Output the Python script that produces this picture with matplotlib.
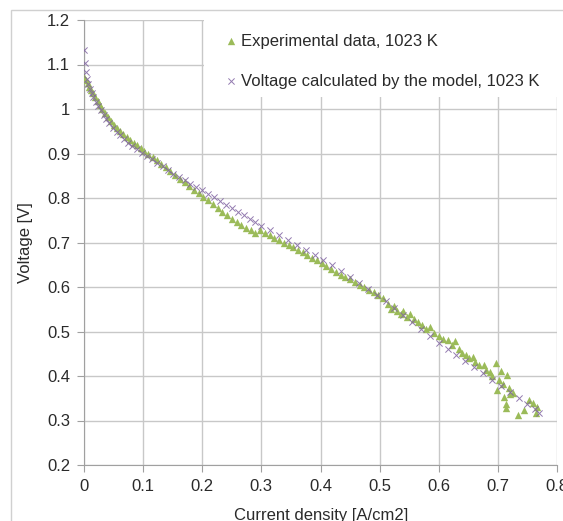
import matplotlib
matplotlib.use("Agg")
import matplotlib.pyplot as plt
from matplotlib.patches import Rectangle

plt.rcParams['font.family'] = ['Liberation Sans', 'DejaVu Sans']

exp_current = [0.000, 0.003, 0.006, 0.009, 0.012, 0.015, 0.019, 0.023, 0.027, 0.031,
               0.036, 0.041, 0.046, 0.051, 0.056, 0.061, 0.066, 0.072, 0.078, 0.084,
               0.090, 0.096, 0.102, 0.109, 0.116, 0.123, 0.130, 0.138, 0.146, 0.154,
               0.162, 0.170, 0.178, 0.186, 0.194, 0.202, 0.210, 0.218, 0.226, 0.234,
               0.242, 0.250, 0.258, 0.266, 0.274, 0.282, 0.290, 0.298, 0.306, 0.314,
               0.322, 0.330, 0.338, 0.346, 0.354, 0.362, 0.370, 0.378, 0.386, 0.394,
               0.402, 0.410, 0.418, 0.426, 0.434, 0.442, 0.450, 0.458, 0.466, 0.474,
               0.482, 0.490, 0.498, 0.506, 0.514, 0.520, 0.524, 0.530, 0.536, 0.540,
               0.546, 0.552, 0.558, 0.565, 0.572, 0.578, 0.585, 0.592, 0.600, 0.608,
               0.615, 0.622, 0.628, 0.634, 0.640, 0.646, 0.652, 0.658, 0.662, 0.668,
               0.676, 0.680, 0.686, 0.690, 0.696, 0.698, 0.702, 0.706, 0.708, 0.711,
               0.713, 0.714, 0.716, 0.718, 0.720, 0.726, 0.734, 0.745, 0.752, 0.759,
               0.765, 0.767]
exp_voltage = [1.072, 1.065, 1.058, 1.050, 1.042, 1.035, 1.026, 1.017, 1.008, 1.000,
               0.991, 0.982, 0.973, 0.965, 0.958, 0.951, 0.944, 0.937, 0.930, 0.924,
               0.918, 0.912, 0.906, 0.899, 0.892, 0.885, 0.877, 0.869, 0.861, 0.852,
               0.843, 0.835, 0.827, 0.819, 0.811, 0.803, 0.795, 0.786, 0.778, 0.769,
               0.761, 0.753, 0.746, 0.739, 0.733, 0.727, 0.722, 0.728, 0.722, 0.716,
               0.711, 0.705, 0.700, 0.695, 0.689, 0.684, 0.678, 0.672, 0.666, 0.661,
               0.655, 0.648, 0.641, 0.634, 0.627, 0.622, 0.617, 0.611, 0.605, 0.599,
               0.593, 0.588, 0.582, 0.575, 0.562, 0.550, 0.558, 0.545, 0.540, 0.547,
               0.533, 0.540, 0.528, 0.522, 0.515, 0.505, 0.510, 0.497, 0.490, 0.484,
               0.480, 0.470, 0.478, 0.460, 0.452, 0.447, 0.440, 0.443, 0.432, 0.425,
               0.425, 0.414, 0.408, 0.400, 0.430, 0.369, 0.392, 0.412, 0.382, 0.352,
               0.327, 0.338, 0.402, 0.372, 0.360, 0.362, 0.312, 0.324, 0.345, 0.339,
               0.316, 0.331]

# voltage calculated by the model, 1023 K
model_current = [0.000, 0.001, 0.003, 0.005, 0.007, 0.010, 0.013, 0.016, 0.020, 0.024,
                 0.028, 0.033, 0.038, 0.043, 0.049, 0.055, 0.061, 0.068, 0.075, 0.082,
                 0.090, 0.098, 0.106, 0.115, 0.124, 0.133, 0.142, 0.151, 0.160, 0.170,
                 0.180, 0.190, 0.200, 0.210, 0.220, 0.230, 0.240, 0.250, 0.260, 0.270,
                 0.280, 0.290, 0.300, 0.315, 0.330, 0.345, 0.360, 0.375, 0.390, 0.405,
                 0.420, 0.435, 0.450, 0.465, 0.480, 0.495, 0.510, 0.525, 0.540, 0.555,
                 0.570, 0.585, 0.600, 0.615, 0.630, 0.645, 0.660, 0.675, 0.690, 0.705,
                 0.720, 0.735, 0.750, 0.762, 0.770]
model_voltage = [1.133, 1.103, 1.083, 1.068, 1.057, 1.046, 1.036, 1.027, 1.016, 1.006,
                 0.997, 0.987, 0.977, 0.968, 0.958, 0.949, 0.941, 0.932, 0.924, 0.917,
                 0.909, 0.902, 0.895, 0.887, 0.879, 0.871, 0.863, 0.855, 0.848, 0.840,
                 0.832, 0.825, 0.818, 0.810, 0.802, 0.793, 0.785, 0.777, 0.769, 0.761,
                 0.753, 0.746, 0.738, 0.727, 0.716, 0.705, 0.694, 0.683, 0.672, 0.661,
                 0.649, 0.636, 0.623, 0.610, 0.596, 0.582, 0.568, 0.553, 0.537, 0.522,
                 0.506, 0.490, 0.475, 0.461, 0.447, 0.434, 0.420, 0.406, 0.392, 0.378,
                 0.364, 0.350, 0.336, 0.325, 0.317]

x_ticks = [0, 0.1, 0.2, 0.3, 0.4, 0.5, 0.6, 0.7, 0.8]
x_tick_labels = ['0', '0.1', '0.2', '0.3', '0.4', '0.5', '0.6', '0.7', '0.8']
y_ticks = [0.2, 0.3, 0.4, 0.5, 0.6, 0.7, 0.8, 0.9, 1.0, 1.1, 1.2]
y_tick_labels = ['0.2', '0.3', '0.4', '0.5', '0.6', '0.7', '0.8', '0.9', '1', '1.1', '1.2']

green = '#9BBB59'
purple = '#8064A2'
grid_col = '#C8C8C8'
text_col = '#2A2A2A'

fig = plt.figure(figsize=(5.63, 5.21), dpi=100)
ax = fig.add_axes([84 / 563, 56 / 521, 473 / 563, 445 / 521])

# chart area border (only left and top edges are in view)
fig.patches.append(Rectangle((11 / 563, -0.1), 1.2, 1.1 - 10 / 521, transform=fig.transFigure,
                             fill=False, edgecolor='#D0D0D0', linewidth=1.0))

ax.scatter(exp_current, exp_voltage, marker='^', s=28, color=green, linewidths=0,
           label='Experimental data, 1023 K', zorder=3)
ax.scatter(model_current, model_voltage, marker='x', s=20, color=purple, linewidths=0.7,
           alpha=0.85, label='Voltage calculated by the model, 1023 K', zorder=4)

ax.set_xlim(0, 0.8)
ax.set_ylim(0.2, 1.2)
ax.set_xticks(x_ticks)
ax.set_xticklabels(x_tick_labels)
ax.set_yticks(y_ticks)
ax.set_yticklabels(y_tick_labels)
ax.tick_params(direction='out', length=5, width=0.8, color='#A0A0A0', labelsize=12,
               labelcolor=text_col, pad=5)

ax.grid(True, color=grid_col, linewidth=1.0)
ax.set_axisbelow(True)
for side in ['top', 'right']:
    ax.spines[side].set_visible(False)
for side in ['left', 'bottom']:
    ax.spines[side].set_color('#A0A0A0')
    ax.spines[side].set_linewidth(0.8)

ax.set_xlabel('Current density [A/cm2]', fontsize=12, color=text_col)
ax.xaxis.set_label_coords(0.501, -0.0966)
ax.set_ylabel('Voltage [V]', fontsize=12, color=text_col)
ax.yaxis.set_label_coords(-0.108, 0.5)

# white legend panel over the grid
ax.add_patch(Rectangle((0.254, 0.827), 1.0, 0.2, transform=ax.transAxes, facecolor='white',
                       edgecolor='none', clip_on=False, zorder=5))
leg = ax.legend(loc='upper left', bbox_to_anchor=(0.2865, 0.984), frameon=False, fontsize=12,
                handlelength=0.6, handletextpad=0.3, labelspacing=1.49, borderaxespad=0,
                scatterpoints=1)
leg.set_zorder(6)
for t in leg.get_texts():
    t.set_color(text_col)

fig.savefig('out.png', dpi=100)
